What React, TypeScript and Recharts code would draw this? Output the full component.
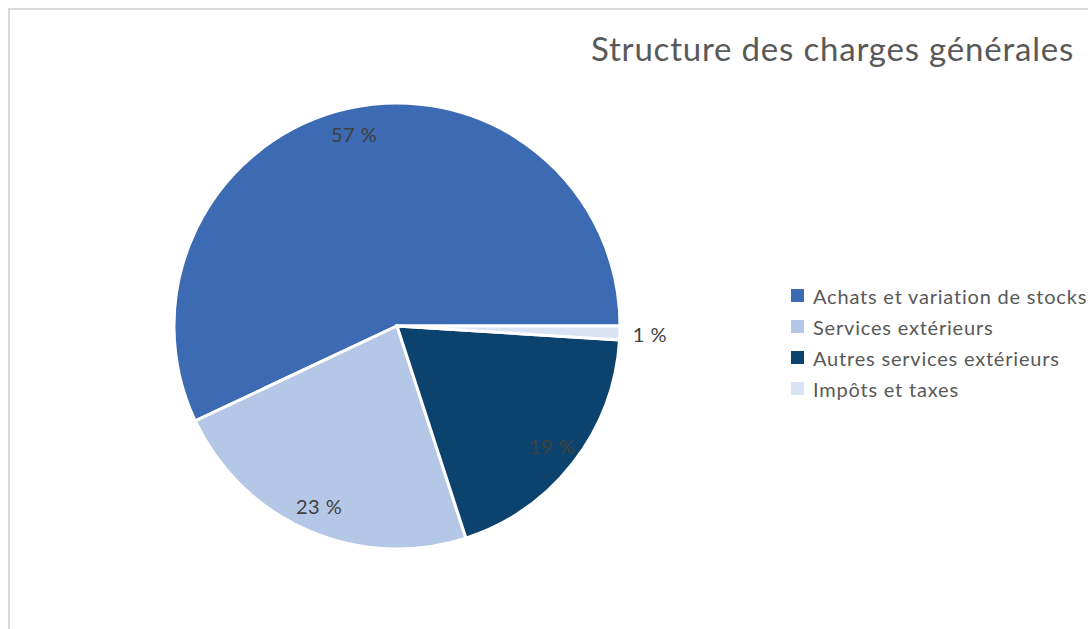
import { Cell, Legend, Pie, PieChart } from "recharts";

const categories = ["Achats et variation de stocks", "Services extérieurs", "Autres services extérieurs", "Impôts et taxes"];
const shares = [57, 23, 19, 1];
const colors = ["#3D6BB3", "#B4C7E7", "#0B436E", "#DAE3F3"];
const title = "Structure des charges générales";

const data = categories.map((name, i) => ({ name, value: shares[i] }));

const FONT = "Lato, 'Open Sans', sans-serif";
const RAD = Math.PI / 180;

const renderLabel = (p: any) => {
  const { cx, cy, midAngle, outerRadius, value, index } = p;
  const r = index === 3 ? outerRadius + 30 : outerRadius * 0.88;
  const x = cx + r * Math.cos(-midAngle * RAD);
  const y = cy + r * Math.sin(-midAngle * RAD);
  return (
    <text x={x} y={y} textAnchor="middle" dominantBaseline="central" fill="#404040" fontSize={20} letterSpacing={0.5} fontFamily={FONT}>
      {value} %
    </text>
  );
};

const renderLegend = (props: any) => {
  const items = [...(props.payload || [])].sort(
    (a: any, b: any) => categories.indexOf(a.value) - categories.indexOf(b.value)
  );
  return (
    <div style={{ fontFamily: FONT, fontSize: 20, letterSpacing: 0.8, color: "#595959", whiteSpace: "nowrap" }}>
      {items.map((it: any) => (
        <div key={it.value} style={{ display: "flex", alignItems: "center", height: 31 }}>
          <span style={{ width: 13, height: 13, background: colors[categories.indexOf(it.value)], marginRight: 9, display: "inline-block" }} />
          <span>{it.value}</span>
        </div>
      ))}
    </div>
  );
};

export default function App() {
  return (
    <div style={{ position: "fixed", left: 8, top: 8, width: 1080, height: 621, overflow: "hidden", borderTop: "2px solid #D9D9D9", borderLeft: "2px solid #D9D9D9", background: "#fff" }}>
      <div style={{ position: "absolute", left: 581, top: 22, fontFamily: FONT, fontSize: 33, letterSpacing: 0.8, color: "#595959", whiteSpace: "nowrap", lineHeight: 1 }}>
        {title}
      </div>
      <PieChart width={1100} height={640}>
        <Pie
          data={data}
          dataKey="value"
          nameKey="name"
          cx={382}
          cy={311}
          outerRadius={223}
          startAngle={0}
          endAngle={360}
          stroke="#fff"
          strokeWidth={3}
          label={renderLabel}
          labelLine={false}
          isAnimationActive={false}
        >
          {data.map((d, i) => (
            <Cell key={d.name} fill={colors[i]} />
          ))}
        </Pie>
        <Legend layout="vertical" verticalAlign="middle" align="right" wrapperStyle={{ top: 270, left: 781, width: 400 }} content={renderLegend} />
      </PieChart>
    </div>
  );
}
